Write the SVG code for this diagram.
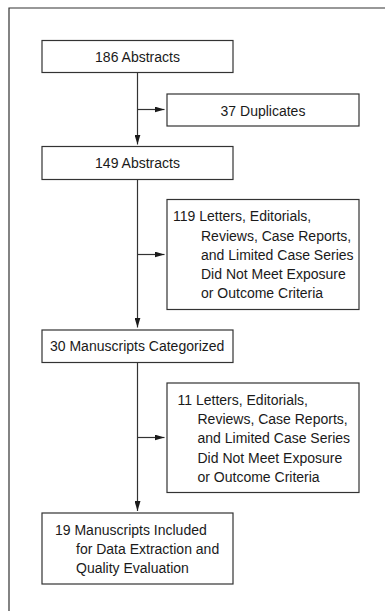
<svg xmlns="http://www.w3.org/2000/svg" width="385" height="611" viewBox="0 0 385 611">
<style>
.box{fill:#fff;stroke:#333;stroke-width:1.2}
.t{font-family:"Liberation Sans",Arial,sans-serif;font-size:14px;fill:#1a1a1a}
.c{text-anchor:middle}
.ln{stroke:#333;stroke-width:1.2;fill:none}
</style>
<defs>
<marker id="ah" markerWidth="10" markerHeight="6" refX="10" refY="3" orient="auto" markerUnits="userSpaceOnUse">
<path d="M0,0 L10,3 L0,6 Z" fill="#1a1a1a"/>
</marker>
</defs>
<rect width="385" height="611" fill="#fff"/>
<path class="ln" d="M9,611 V8 H385" stroke-width="1.4"/>
<g id="connectors">
<line class="ln" x1="137.5" y1="73" x2="137.5" y2="144.5" marker-end="url(#ah)"/>
<line class="ln" x1="137.5" y1="109.5" x2="164.5" y2="109.5" marker-end="url(#ah)"/>
<line class="ln" x1="137.5" y1="179.5" x2="137.5" y2="327.5" marker-end="url(#ah)"/>
<line class="ln" x1="137.5" y1="254.5" x2="164.5" y2="254.5" marker-end="url(#ah)"/>
<line class="ln" x1="137.5" y1="362.5" x2="137.5" y2="511" marker-end="url(#ah)"/>
<line class="ln" x1="137.5" y1="437.5" x2="164.5" y2="437.5" marker-end="url(#ah)"/>
</g>
<g id="n186">
<rect class="box" x="42" y="40.5" width="191" height="32"/>
<text class="t c" x="137.5" y="62">186 Abstracts</text>
</g>
<g id="n37">
<rect class="box" x="167" y="94" width="192" height="32"/>
<text class="t c" x="263" y="115.5">37 Duplicates</text>
</g>
<g id="n149">
<rect class="box" x="42" y="146.5" width="191" height="33"/>
<text class="t c" x="137.5" y="168">149 Abstracts</text>
</g>
<g id="n119">
<rect class="box" x="167" y="199.5" width="192" height="110"/>
<text class="t" x="173" y="221">119 Letters, Editorials,</text>
<text class="t" x="201" y="240.5">Reviews, Case Reports,</text>
<text class="t" x="201" y="259.5">and Limited Case Series</text>
<text class="t" x="201" y="279">Did Not Meet Exposure</text>
<text class="t" x="201" y="298">or Outcome Criteria</text>
</g>
<g id="n30">
<rect class="box" x="42" y="330" width="191" height="32.5"/>
<text class="t" x="50" y="351">30 Manuscripts Categorized</text>
</g>
<g id="n11">
<rect class="box" x="167" y="383" width="192" height="109.5"/>
<text class="t" x="177.5" y="404.5">11 Letters, Editorials,</text>
<text class="t" x="197.5" y="424">Reviews, Case Reports,</text>
<text class="t" x="197.5" y="443">and Limited Case Series</text>
<text class="t" x="197.5" y="462.5">Did Not Meet Exposure</text>
<text class="t" x="197.5" y="481.5">or Outcome Criteria</text>
</g>
<g id="n19">
<rect class="box" x="42" y="513" width="191" height="71"/>
<text class="t" x="55" y="535">19 Manuscripts Included</text>
<text class="t" x="76" y="554">for Data Extraction and</text>
<text class="t" x="76" y="573">Quality Evaluation</text>
</g>
</svg>
